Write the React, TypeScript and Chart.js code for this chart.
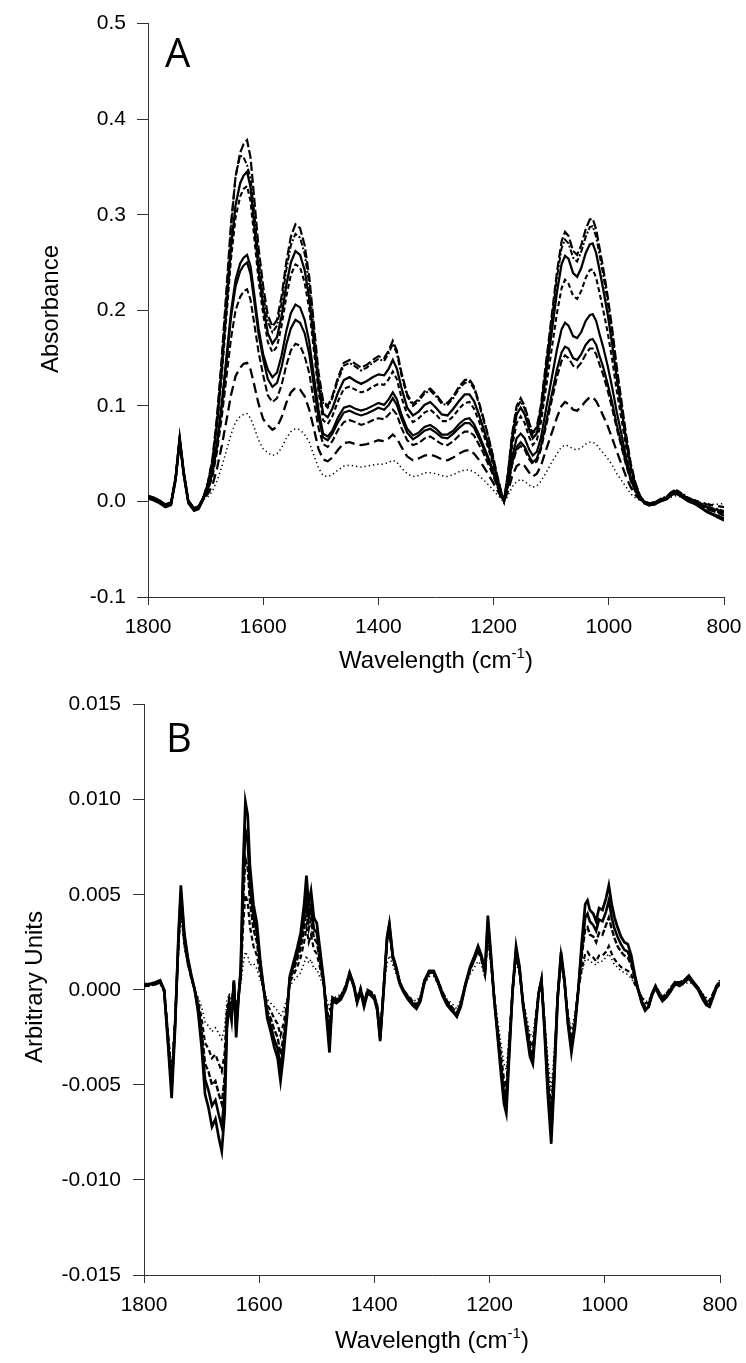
import React, { useEffect, useRef } from "react";
import { Chart, registerables } from "chart.js";

Chart.register(...registerables);

// ---------------- Panel A : absorbance spectra ----------------
const WAVENUMBERS_A = [
  1800, 1790, 1780, 1770, 1760, 1752, 1745, 1738, 1730, 1720, 1712, 1704,
  1696, 1688, 1680, 1672, 1664, 1656, 1648, 1640, 1634, 1628, 1622, 1616, 1608, 1600,
  1592, 1584, 1576, 1568, 1560, 1552, 1544, 1536, 1528, 1520, 1512, 1504,
  1496, 1488, 1480, 1470, 1460, 1450, 1440, 1430, 1420, 1410, 1400, 1390, 1382, 1375, 1368, 1360, 1350, 1340, 1330, 1320, 1310, 1300, 1290, 1280, 1270, 1260, 1250, 1242, 1234, 1226, 1218, 1210, 1202, 1194,
  1186, 1182,
  1175, 1168, 1160, 1153, 1146, 1138, 1132, 1125, 1118, 1110, 1100, 1090, 1082, 1076, 1070, 1062, 1055, 1048, 1040, 1033, 1028, 1022, 1016, 1010, 1002, 994, 986, 978, 970, 962, 954, 946,
  938, 930, 920, 910, 900, 890, 882, 872, 862, 850, 840, 830, 820, 810, 800,
];

const ABS_1 = [
  0.005, 0.003, 0.0, -0.004, -0.002, 0.025, 0.066, 0.03, 0.0, -0.008, -0.006, 0.004,
  0.02, 0.045, 0.09, 0.15, 0.22, 0.29, 0.34, 0.365, 0.374, 0.378, 0.36, 0.32, 0.265, 0.225,
  0.195, 0.183, 0.19, 0.215, 0.25, 0.277, 0.29, 0.286, 0.268, 0.235, 0.185, 0.135,
  0.105, 0.1, 0.11, 0.13, 0.145, 0.148, 0.144, 0.14, 0.143, 0.148, 0.152, 0.15, 0.158, 0.168, 0.158, 0.135, 0.112, 0.102, 0.107, 0.115, 0.118, 0.112, 0.104, 0.103, 0.11, 0.12, 0.127, 0.128, 0.12, 0.105, 0.088, 0.07, 0.05, 0.028,
  0.008, 0.001,
  0.03, 0.07, 0.1, 0.108, 0.1, 0.082, 0.072, 0.078, 0.1, 0.14, 0.19, 0.24, 0.272, 0.282, 0.278, 0.262, 0.258, 0.268, 0.285, 0.295, 0.296, 0.285, 0.265, 0.245, 0.215, 0.18, 0.14, 0.105, 0.07, 0.04, 0.02, 0.006,
  -0.001, -0.003, -0.002, 0.002, 0.004, 0.01, 0.011, 0.006, 0.002, -0.001, -0.004, -0.008, -0.01, -0.012, -0.015,
];
const ABS_2 = [
  0.006, 0.004, 0.001, -0.003, -0.001, 0.026, 0.067, 0.031, 0.001, -0.007, -0.005, 0.004,
  0.019, 0.043, 0.088, 0.148, 0.215, 0.285, 0.34, 0.362, 0.36, 0.352, 0.338, 0.305, 0.254, 0.216,
  0.188, 0.177, 0.184, 0.208, 0.242, 0.268, 0.28, 0.276, 0.259, 0.227, 0.179, 0.13,
  0.103, 0.098, 0.108, 0.127, 0.142, 0.145, 0.141, 0.137, 0.14, 0.145, 0.149, 0.147, 0.155, 0.165, 0.155, 0.132, 0.11, 0.1, 0.105, 0.113, 0.116, 0.11, 0.102, 0.101, 0.108, 0.118, 0.124, 0.125, 0.118, 0.103, 0.086, 0.069, 0.049, 0.027,
  0.008, 0.001,
  0.029, 0.068, 0.097, 0.105, 0.097, 0.08, 0.07, 0.076, 0.097, 0.136, 0.185, 0.234, 0.265, 0.274, 0.27, 0.255, 0.251, 0.261, 0.277, 0.287, 0.288, 0.277, 0.258, 0.238, 0.209, 0.175, 0.136, 0.102, 0.068, 0.039, 0.019, 0.006,
  0.0, -0.002, -0.001, 0.003, 0.005, 0.011, 0.012, 0.008, 0.004, 0.001, -0.002, -0.005, -0.007, -0.008, -0.01,
];
const ABS_3 = [
  0.004, 0.002, -0.001, -0.005, -0.003, 0.024, 0.065, 0.029, -0.001, -0.009, -0.007, 0.003,
  0.018, 0.041, 0.082, 0.137, 0.201, 0.265, 0.31, 0.333, 0.341, 0.345, 0.329, 0.292, 0.242, 0.205,
  0.176, 0.165, 0.172, 0.194, 0.226, 0.25, 0.262, 0.258, 0.242, 0.212, 0.167, 0.122,
  0.092, 0.088, 0.097, 0.114, 0.127, 0.13, 0.126, 0.123, 0.126, 0.13, 0.133, 0.132, 0.139, 0.148, 0.139, 0.119, 0.098, 0.09, 0.094, 0.101, 0.104, 0.098, 0.091, 0.09, 0.097, 0.105, 0.112, 0.112, 0.105, 0.092, 0.077, 0.061, 0.044, 0.025,
  0.007, 0.0,
  0.027, 0.064, 0.091, 0.098, 0.091, 0.075, 0.066, 0.071, 0.091, 0.128, 0.173, 0.219, 0.248, 0.257, 0.254, 0.239, 0.235, 0.244, 0.26, 0.269, 0.27, 0.26, 0.242, 0.223, 0.196, 0.164, 0.128, 0.096, 0.064, 0.036, 0.018, 0.005,
  -0.002, -0.004, -0.003, 0.001, 0.003, 0.008, 0.009, 0.005, 0.001, -0.002, -0.006, -0.01, -0.013, -0.015, -0.018,
];
const ABS_4 = [
  0.005, 0.003, 0.0, -0.004, -0.002, 0.025, 0.064, 0.029, 0.0, -0.008, -0.006, 0.003,
  0.017, 0.039, 0.079, 0.131, 0.192, 0.253, 0.297, 0.319, 0.327, 0.33, 0.314, 0.279, 0.231, 0.196,
  0.167, 0.156, 0.162, 0.184, 0.214, 0.237, 0.248, 0.245, 0.229, 0.201, 0.158, 0.115,
  0.085, 0.081, 0.089, 0.105, 0.118, 0.12, 0.117, 0.114, 0.116, 0.12, 0.123, 0.122, 0.128, 0.136, 0.128, 0.109, 0.091, 0.083, 0.087, 0.093, 0.096, 0.091, 0.084, 0.084, 0.089, 0.097, 0.103, 0.104, 0.097, 0.085, 0.071, 0.057, 0.041, 0.023,
  0.007, 0.001,
  0.025, 0.057, 0.082, 0.089, 0.082, 0.067, 0.059, 0.064, 0.082, 0.115, 0.156, 0.197, 0.223, 0.232, 0.228, 0.215, 0.212, 0.22, 0.234, 0.242, 0.243, 0.234, 0.218, 0.201, 0.177, 0.148, 0.115, 0.086, 0.057, 0.033, 0.016, 0.005,
  -0.001, -0.003, -0.002, 0.002, 0.004, 0.009, 0.01, 0.006, 0.003, 0.0, -0.003, -0.006, -0.008, -0.01, -0.012,
];
const ABS_5 = [
  0.003, 0.001, -0.002, -0.006, -0.004, 0.022, 0.062, 0.027, -0.002, -0.01, -0.008, 0.002,
  0.014, 0.031, 0.061, 0.102, 0.15, 0.198, 0.232, 0.249, 0.255, 0.258, 0.246, 0.219, 0.181, 0.154,
  0.138, 0.13, 0.135, 0.153, 0.178, 0.197, 0.206, 0.203, 0.19, 0.167, 0.131, 0.096,
  0.071, 0.068, 0.074, 0.088, 0.098, 0.1, 0.097, 0.095, 0.097, 0.1, 0.103, 0.101, 0.107, 0.114, 0.107, 0.091, 0.076, 0.069, 0.072, 0.078, 0.08, 0.076, 0.07, 0.07, 0.074, 0.081, 0.086, 0.087, 0.081, 0.071, 0.059, 0.047, 0.034, 0.019,
  0.006, 0.0,
  0.02, 0.046, 0.066, 0.071, 0.066, 0.054, 0.048, 0.052, 0.066, 0.093, 0.126, 0.159, 0.18, 0.187, 0.184, 0.173, 0.171, 0.177, 0.189, 0.195, 0.196, 0.189, 0.175, 0.162, 0.142, 0.119, 0.093, 0.07, 0.046, 0.026, 0.013, 0.004,
  -0.002, -0.004, -0.003, 0.0, 0.002, 0.007, 0.008, 0.004, 0.0, -0.003, -0.007, -0.011, -0.014, -0.017, -0.02,
];
const ABS_6 = [
  0.006, 0.004, 0.001, -0.003, -0.001, 0.026, 0.068, 0.032, 0.001, -0.007, -0.005, 0.004,
  0.013, 0.03, 0.059, 0.099, 0.145, 0.192, 0.225, 0.241, 0.247, 0.25, 0.238, 0.212, 0.175, 0.149,
  0.128, 0.12, 0.124, 0.141, 0.164, 0.181, 0.19, 0.187, 0.176, 0.154, 0.121, 0.088,
  0.067, 0.064, 0.071, 0.083, 0.093, 0.095, 0.092, 0.09, 0.092, 0.095, 0.098, 0.096, 0.101, 0.108, 0.101, 0.087, 0.072, 0.065, 0.069, 0.074, 0.076, 0.072, 0.067, 0.066, 0.071, 0.077, 0.082, 0.082, 0.077, 0.067, 0.056, 0.045, 0.032, 0.018,
  0.006, 0.001,
  0.017, 0.04, 0.057, 0.062, 0.057, 0.047, 0.041, 0.045, 0.057, 0.08, 0.109, 0.138, 0.156, 0.162, 0.16, 0.15, 0.148, 0.154, 0.164, 0.169, 0.17, 0.164, 0.152, 0.141, 0.123, 0.103, 0.08, 0.06, 0.04, 0.023, 0.011, 0.003,
  0.0, -0.002, -0.001, 0.002, 0.004, 0.01, 0.011, 0.007, 0.003, 0.0, -0.003, -0.006, -0.008, -0.009, -0.011,
];
const ABS_7 = [
  0.004, 0.002, -0.001, -0.005, -0.003, 0.023, 0.063, 0.028, -0.001, -0.009, -0.007, 0.002,
  0.012, 0.026, 0.053, 0.088, 0.129, 0.17, 0.2, 0.214, 0.22, 0.222, 0.211, 0.188, 0.156, 0.132,
  0.111, 0.104, 0.108, 0.122, 0.142, 0.158, 0.165, 0.163, 0.152, 0.134, 0.105, 0.077,
  0.06, 0.057, 0.063, 0.075, 0.083, 0.085, 0.083, 0.08, 0.082, 0.085, 0.087, 0.086, 0.091, 0.096, 0.091, 0.077, 0.064, 0.059, 0.061, 0.066, 0.068, 0.064, 0.06, 0.059, 0.063, 0.069, 0.073, 0.073, 0.069, 0.06, 0.051, 0.04, 0.029, 0.016,
  0.005, 0.0,
  0.016, 0.038, 0.054, 0.058, 0.054, 0.044, 0.039, 0.042, 0.054, 0.076, 0.103, 0.13, 0.147, 0.153, 0.15, 0.142, 0.14, 0.145, 0.154, 0.16, 0.16, 0.154, 0.143, 0.133, 0.116, 0.097, 0.076, 0.057, 0.038, 0.022, 0.011, 0.003,
  -0.001, -0.003, -0.002, 0.001, 0.003, 0.008, 0.009, 0.005, 0.002, -0.001, -0.004, -0.007, -0.009, -0.011, -0.013,
];
const ABS_8 = [
  0.005, 0.003, 0.0, -0.004, -0.002, 0.024, 0.065, 0.03, 0.0, -0.008, -0.006, 0.003,
  0.008, 0.017, 0.035, 0.058, 0.084, 0.111, 0.131, 0.14, 0.144, 0.145, 0.138, 0.123, 0.102, 0.086,
  0.08, 0.075, 0.078, 0.088, 0.103, 0.114, 0.119, 0.117, 0.11, 0.096, 0.076, 0.055,
  0.044, 0.042, 0.046, 0.054, 0.061, 0.062, 0.06, 0.059, 0.06, 0.062, 0.064, 0.063, 0.066, 0.07, 0.066, 0.057, 0.047, 0.043, 0.045, 0.048, 0.049, 0.047, 0.044, 0.043, 0.046, 0.05, 0.053, 0.054, 0.05, 0.044, 0.037, 0.029, 0.021, 0.012,
  0.004, 0.0,
  0.011, 0.026, 0.037, 0.04, 0.037, 0.03, 0.026, 0.029, 0.037, 0.052, 0.07, 0.088, 0.1, 0.104, 0.102, 0.096, 0.095, 0.099, 0.105, 0.109, 0.109, 0.105, 0.098, 0.09, 0.079, 0.066, 0.052, 0.039, 0.026, 0.015, 0.007, 0.002,
  0.0, -0.002, -0.001, 0.002, 0.003, 0.007, 0.008, 0.005, 0.003, 0.001, -0.001, -0.003, -0.004, -0.005, -0.006,
];
const ABS_9 = [
  0.004, 0.002, -0.001, -0.004, -0.003, 0.023, 0.064, 0.029, -0.001, -0.008, -0.007, 0.002,
  0.005, 0.011, 0.022, 0.036, 0.053, 0.07, 0.083, 0.089, 0.091, 0.092, 0.087, 0.078, 0.064, 0.055,
  0.051, 0.048, 0.05, 0.056, 0.066, 0.073, 0.076, 0.075, 0.07, 0.062, 0.048, 0.035,
  0.027, 0.026, 0.028, 0.033, 0.037, 0.038, 0.037, 0.036, 0.037, 0.038, 0.039, 0.039, 0.041, 0.043, 0.041, 0.035, 0.029, 0.026, 0.027, 0.03, 0.03, 0.029, 0.027, 0.026, 0.028, 0.031, 0.033, 0.033, 0.031, 0.027, 0.023, 0.018, 0.013, 0.007,
  0.002, -0.001,
  0.006, 0.015, 0.021, 0.023, 0.021, 0.017, 0.015, 0.016, 0.021, 0.029, 0.04, 0.05, 0.057, 0.059, 0.058, 0.055, 0.054, 0.056, 0.06, 0.062, 0.062, 0.06, 0.055, 0.051, 0.045, 0.038, 0.029, 0.022, 0.015, 0.008, 0.004, 0.001,
  -0.001, -0.002, -0.001, 0.001, 0.002, 0.005, 0.006, 0.004, 0.002, 0.0, -0.001, -0.002, -0.003, -0.003, -0.002,
];

// ---------------- Panel B : derivative spectra ----------------
const WAVENUMBERS_B = [
  1800, 1790, 1780, 1772, 1765, 1758, 1752, 1746, 1740, 1736, 1730, 1724, 1718,
  1712, 1706, 1700, 1694, 1688, 1682, 1676, 1670, 1665, 1660, 1656, 1652, 1648, 1644, 1640, 1636, 1632, 1628, 1624, 1620, 1616, 1610, 1604, 1598, 1592, 1586, 1580, 1574, 1568, 1563, 1558, 1552, 1547,
  1540, 1534, 1528, 1522, 1518, 1514, 1510, 1505, 1500, 1494, 1488, 1483, 1478,
  1473, 1466, 1458, 1450, 1443, 1436, 1430, 1424, 1418, 1412, 1406, 1400, 1395, 1390, 1384, 1378, 1374, 1368, 1362, 1356, 1350, 1342, 1334, 1327, 1320, 1313, 1305, 1297, 1290, 1282, 1274, 1266, 1257, 1250, 1242, 1234, 1226, 1220, 1214,
  1208, 1203, 1198, 1192, 1186, 1180, 1175, 1171, 1166, 1160, 1154, 1148, 1142, 1136, 1130, 1125, 1120, 1115, 1110, 1105, 1099, 1093, 1088, 1082, 1076, 1070, 1064, 1058, 1052, 1046,
  1040, 1034, 1030, 1026, 1020, 1015, 1010, 1004, 998, 993, 988, 983, 978, 972, 966, 960, 954, 948, 942,
  936, 930, 924, 918, 912, 906, 900, 893, 886, 878, 870, 862, 854, 846, 838, 830, 824, 818, 812, 806, 800,
];

const DER_1 = [
  3e-4, 3e-4, 4e-4, 5e-4, 0, -30e-4, -57e-4, -20e-4, 30e-4, 55e-4, 30e-4, 17e-4, 8e-4,
  0, -12e-4, -30e-4, -55e-4, -62e-4, -72e-4, -68e-4, -78e-4, -85e-4, -65e-4, -20e-4, -8e-4, -16e-4, 5e-4, -25e-4, -5e-4, 12e-4, 65e-4, 99e-4, 92e-4, 65e-4, 45e-4, 35e-4, 15e-4, 0, -15e-4, -22e-4, -30e-4, -36e-4, -48e-4, -35e-4, -15e-4, 7e-4,
  15e-4, 22e-4, 30e-4, 45e-4, 60e-4, 45e-4, 52e-4, 38e-4, 35e-4, 20e-4, 5e-4, -15e-4, -33e-4,
  -5e-4, -6e-4, -4e-4, 1e-4, 9e-4, 3e-4, -6e-4, 0, -8e-4, -1e-4, -2e-4, -4e-4, -10e-4, -27e-4, 0, 28e-4, 35e-4, 18e-4, 12e-4, 4e-4, 0, -4e-4, -7e-4, -9e-4, -5e-4, 5e-4, 10e-4, 10e-4, 5e-4, -2e-4, -7e-4, -10e-4, -14e-4, -8e-4, 3e-4, 12e-4, 18e-4, 23e-4, 18e-4,
  10e-4, 39e-4, 20e-4, -5e-4, -25e-4, -45e-4, -60e-4, -65e-4, -35e-4, 0, 23e-4, 12e-4, -8e-4, -22e-4, -35e-4, -39e-4, -20e-4, -2e-4, 5.5e-4, -20e-4, -55e-4, -81e-4, -50e-4, -5e-4, 20e-4, 5e-4, -18e-4, -33e-4, -20e-4, 0,
  25e-4, 45e-4, 47e-4, 42e-4, 40e-4, 36e-4, 43e-4, 42e-4, 48e-4, 55e-4, 45e-4, 38e-4, 33e-4, 28e-4, 25e-4, 24e-4, 18e-4, 8e-4, 0,
  -6e-4, -10e-4, -9e-4, -2e-4, 2e-4, -2e-4, -5e-4, -3e-4, 0, 4e-4, 3e-4, 5e-4, 7.5e-4, 4e-4, 1e-4, -4e-4, -7e-4, -8e-4, -3e-4, 2e-4, 4e-4,
];
const DER_2 = [
  2e-4, 3e-4, 3e-4, 4e-4, 0, -28e-4, -52e-4, -18e-4, 28e-4, 51e-4, 28e-4, 16e-4, 7e-4,
  0, -10e-4, -26e-4, -47e-4, -53e-4, -61e-4, -58e-4, -66e-4, -72e-4, -55e-4, -17e-4, -7e-4, -14e-4, 4e-4, -21e-4, -4e-4, 10e-4, 55e-4, 84e-4, 78e-4, 55e-4, 38e-4, 30e-4, 13e-4, 0, -13e-4, -19e-4, -26e-4, -31e-4, -41e-4, -30e-4, -13e-4, 6e-4,
  13e-4, 19e-4, 26e-4, 38e-4, 51e-4, 38e-4, 44e-4, 32e-4, 30e-4, 17e-4, 4e-4, -13e-4, -28e-4,
  -6e-4, -7e-4, -5e-4, 0, 8e-4, 2e-4, -7e-4, -1e-4, -9e-4, -2e-4, -3e-4, -5e-4, -11e-4, -26e-4, -1e-4, 27e-4, 34e-4, 17e-4, 11e-4, 3e-4, -1e-4, -5e-4, -8e-4, -10e-4, -6e-4, 4e-4, 9e-4, 9e-4, 4e-4, -3e-4, -8e-4, -11e-4, -14e-4, -9e-4, 2e-4, 11e-4, 17e-4, 22e-4, 17e-4,
  9e-4, 36e-4, 18e-4, -5e-4, -23e-4, -41e-4, -55e-4, -60e-4, -32e-4, 0, 21e-4, 11e-4, -7e-4, -20e-4, -32e-4, -36e-4, -18e-4, -2e-4, 5e-4, -18e-4, -51e-4, -75e-4, -46e-4, -5e-4, 18e-4, 5e-4, -17e-4, -30e-4, -18e-4, 0,
  21e-4, 38e-4, 40e-4, 36e-4, 34e-4, 31e-4, 37e-4, 36e-4, 41e-4, 47e-4, 38e-4, 32e-4, 28e-4, 24e-4, 21e-4, 20e-4, 15e-4, 7e-4, 0,
  -7e-4, -11e-4, -9e-4, -3e-4, 1e-4, -3e-4, -6e-4, -4e-4, -1e-4, 3e-4, 2e-4, 4e-4, 6e-4, 3e-4, 0, -5e-4, -8e-4, -9e-4, -4e-4, 1e-4, 3e-4,
];
const DER_3 = [
  3e-4, 2e-4, 4e-4, 4e-4, -1e-4, -26e-4, -48e-4, -17e-4, 26e-4, 47e-4, 26e-4, 14e-4, 7e-4,
  0, -8e-4, -21e-4, -39e-4, -43e-4, -50e-4, -48e-4, -55e-4, -60e-4, -46e-4, -14e-4, -6e-4, -11e-4, 4e-4, -18e-4, -4e-4, 8e-4, 46e-4, 69e-4, 64e-4, 46e-4, 32e-4, 25e-4, 11e-4, 0, -11e-4, -15e-4, -21e-4, -25e-4, -34e-4, -25e-4, -11e-4, 5e-4,
  11e-4, 16e-4, 22e-4, 32e-4, 43e-4, 32e-4, 37e-4, 27e-4, 25e-4, 14e-4, 4e-4, -11e-4, -24e-4,
  -4e-4, -5e-4, -3e-4, 2e-4, 9e-4, 3e-4, -5e-4, 1e-4, -7e-4, 0, -1e-4, -3e-4, -9e-4, -25e-4, 1e-4, 26e-4, 32e-4, 17e-4, 11e-4, 4e-4, 0, -3e-4, -6e-4, -8e-4, -4e-4, 5e-4, 9e-4, 9e-4, 5e-4, -1e-4, -6e-4, -9e-4, -13e-4, -7e-4, 3e-4, 11e-4, 16e-4, 21e-4, 16e-4,
  9e-4, 33e-4, 17e-4, -4e-4, -21e-4, -38e-4, -51e-4, -55e-4, -30e-4, 0, 20e-4, 10e-4, -7e-4, -19e-4, -30e-4, -33e-4, -17e-4, -2e-4, 5e-4, -17e-4, -47e-4, -69e-4, -43e-4, -4e-4, 17e-4, 4e-4, -15e-4, -28e-4, -17e-4, 0,
  18e-4, 32e-4, 33e-4, 29e-4, 28e-4, 25e-4, 30e-4, 29e-4, 34e-4, 38e-4, 32e-4, 27e-4, 23e-4, 20e-4, 18e-4, 17e-4, 13e-4, 6e-4, 0,
  -5e-4, -9e-4, -8e-4, -2e-4, 2e-4, -1e-4, -4e-4, -2e-4, 1e-4, 4e-4, 4e-4, 5e-4, 7e-4, 4e-4, 1e-4, -3e-4, -6e-4, -7e-4, -2e-4, 2e-4, 5e-4,
];
const DER_4 = [
  2e-4, 2e-4, 3e-4, 4e-4, 0, -24e-4, -46e-4, -16e-4, 24e-4, 44e-4, 24e-4, 14e-4, 6e-4,
  0, -6e-4, -15e-4, -28e-4, -31e-4, -36e-4, -34e-4, -39e-4, -43e-4, -33e-4, -10e-4, -4e-4, -8e-4, 3e-4, -13e-4, -3e-4, 6e-4, 33e-4, 50e-4, 46e-4, 33e-4, 23e-4, 18e-4, 8e-4, 0, -8e-4, -11e-4, -15e-4, -18e-4, -24e-4, -18e-4, -8e-4, 4e-4,
  8e-4, 12e-4, 17e-4, 25e-4, 33e-4, 25e-4, 29e-4, 21e-4, 19e-4, 11e-4, 3e-4, -8e-4, -18e-4,
  -5e-4, -5e-4, -4e-4, 1e-4, 8e-4, 2e-4, -6e-4, 0, -7e-4, -1e-4, -2e-4, -4e-4, -9e-4, -24e-4, 0, 25e-4, 31e-4, 16e-4, 10e-4, 3e-4, 0, -4e-4, -6e-4, -8e-4, -5e-4, 4e-4, 9e-4, 9e-4, 4e-4, -2e-4, -6e-4, -9e-4, -12e-4, -7e-4, 3e-4, 10e-4, 16e-4, 20e-4, 16e-4,
  8e-4, 30e-4, 16e-4, -4e-4, -20e-4, -35e-4, -47e-4, -51e-4, -27e-4, 0, 18e-4, 9e-4, -6e-4, -17e-4, -27e-4, -30e-4, -16e-4, -2e-4, 4e-4, -16e-4, -43e-4, -63e-4, -39e-4, -4e-4, 16e-4, 4e-4, -14e-4, -26e-4, -16e-4, 0,
  11e-4, 19e-4, 20e-4, 18e-4, 17e-4, 15e-4, 18e-4, 18e-4, 20e-4, 23e-4, 19e-4, 16e-4, 14e-4, 12e-4, 11e-4, 10e-4, 8e-4, 3e-4, 0,
  -4e-4, -7e-4, -7e-4, -2e-4, 1e-4, -2e-4, -4e-4, -3e-4, 0, 3e-4, 3e-4, 4e-4, 6e-4, 4e-4, 1e-4, -3e-4, -5e-4, -6e-4, -2e-4, 2e-4, 4e-4,
];
const DER_5 = [
  1e-4, 2e-4, 3e-4, 3e-4, 0, -22e-4, -43e-4, -15e-4, 22e-4, 41e-4, 22e-4, 13e-4, 6e-4,
  0, -4e-4, -9e-4, -17e-4, -19e-4, -22e-4, -20e-4, -23e-4, -26e-4, -20e-4, -6e-4, -2e-4, -5e-4, 2e-4, -8e-4, -2e-4, 3e-4, 13e-4, 20e-4, 18e-4, 13e-4, 14e-4, 11e-4, 5e-4, 0, -5e-4, -7e-4, -9e-4, -11e-4, -14e-4, -11e-4, -5e-4, 2e-4,
  5e-4, 7e-4, 9e-4, 14e-4, 18e-4, 14e-4, 16e-4, 11e-4, 11e-4, 6e-4, 2e-4, -5e-4, -10e-4,
  -3e-4, -4e-4, -2e-4, 1e-4, 6e-4, 2e-4, -4e-4, 0, -5e-4, -1e-4, -1e-4, -3e-4, -7e-4, -18e-4, 0, 14e-4, 18e-4, 13e-4, 8e-4, 3e-4, 0, -3e-4, -5e-4, -6e-4, -3e-4, 3e-4, 7e-4, 7e-4, 3e-4, -1e-4, -5e-4, -7e-4, -10e-4, -5e-4, 2e-4, 8e-4, 12e-4, 15e-4, 13e-4,
  6e-4, 25e-4, 13e-4, -3e-4, -16e-4, -29e-4, -39e-4, -42e-4, -23e-4, 0, 15e-4, 8e-4, -5e-4, -14e-4, -23e-4, -25e-4, -13e-4, -1e-4, 4e-4, -13e-4, -36e-4, -53e-4, -33e-4, -3e-4, 13e-4, 3e-4, -12e-4, -21e-4, -13e-4, 0,
  9e-4, 16e-4, 16e-4, 15e-4, 14e-4, 13e-4, 15e-4, 15e-4, 17e-4, 19e-4, 16e-4, 13e-4, 12e-4, 10e-4, 9e-4, 8e-4, 6e-4, 3e-4, 0,
  -3e-4, -6e-4, -6e-4, -1e-4, 1e-4, -1e-4, -3e-4, -2e-4, 0, 2e-4, 2e-4, 3e-4, 4e-4, 3e-4, 1e-4, -2e-4, -4e-4, -5e-4, -2e-4, 1e-4, 3e-4,
];

// ---------------- Axes ----------------
const X_TICKS = [800, 1000, 1200, 1400, 1600, 1800];
const X_TICK_LABELS = ["800", "1000", "1200", "1400", "1600", "1800"];
const Y_TICKS_A = [-0.1, 0, 0.1, 0.2, 0.3, 0.4, 0.5];
const Y_TICK_LABELS_A = ["-0.1", "0.0", "0.1", "0.2", "0.3", "0.4", "0.5"];
const Y_TICKS_B = [-0.015, -0.01, -0.005, 0, 0.005, 0.01, 0.015];
const Y_TICK_LABELS_B = ["-0.015", "-0.010", "-0.005", "0.000", "0.005", "0.010", "0.015"];

type LineStyle = { dash: number[]; width: number };

const STYLES_A: LineStyle[] = [
  { dash: [9, 3], width: 2.2 },
  { dash: [6, 2, 2, 2], width: 2 },
  { dash: [], width: 2.3 },
  { dash: [5, 3], width: 2.1 },
  { dash: [], width: 2.2 },
  { dash: [], width: 2.2 },
  { dash: [7, 3], width: 2.1 },
  { dash: [10, 5], width: 2.3 },
  { dash: [1.3, 3], width: 1.5 },
];
const STYLES_B: LineStyle[] = [
  { dash: [], width: 2.7 },
  { dash: [], width: 2.6 },
  { dash: [6, 2], width: 2.4 },
  { dash: [5, 3], width: 2.2 },
  { dash: [1.3, 3], width: 1.6 },
];

const FONT_FAMILY = '"Liberation Sans", Arial, sans-serif';

interface PanelConfig {
  id: string;
  top: number;
  height: number;
  padTop: number;
  padRight: number;
  yWidth: number;
  xHeight: number;
  yMin: number;
  yMax: number;
  yTicks: number[];
  yLabels: string[];
  yTickPad: number;
  letter: string;
  letterX: number;
  letterY: number;
  yTitle: string;
  yTitleX: number;
  yTitleY: number;
  xTitleX: number;
  xTitleY: number;
  xs: number[];
  series: number[][];
  styles: LineStyle[];
}

const PANEL_A: PanelConfig = {
  id: "A",
  top: 0,
  height: 680,
  padTop: 21,
  padRight: 22,
  yWidth: 148,
  xHeight: 83,
  yMin: -0.1,
  yMax: 0.5,
  yTicks: Y_TICKS_A,
  yLabels: Y_TICK_LABELS_A,
  yTickPad: 11,
  letter: "A",
  letterX: 165,
  letterY: 67,
  yTitle: "Absorbance",
  yTitleX: 51,
  yTitleY: 309,
  xTitleX: 436,
  xTitleY: 668,
  xs: WAVENUMBERS_A,
  series: [ABS_1, ABS_2, ABS_3, ABS_4, ABS_5, ABS_6, ABS_7, ABS_8, ABS_9],
  styles: STYLES_A,
};

const PANEL_B: PanelConfig = {
  id: "B",
  top: 680,
  height: 683,
  padTop: 20,
  padRight: 26,
  yWidth: 144,
  xHeight: 88,
  yMin: -0.015,
  yMax: 0.015,
  yTicks: Y_TICKS_B,
  yLabels: Y_TICK_LABELS_B,
  yTickPad: 12,
  letter: "B",
  letterX: 166,
  letterY: 72,
  yTitle: "Arbitrary Units",
  yTitleX: 35,
  yTitleY: 307,
  xTitleX: 432,
  xTitleY: 668,
  xs: WAVENUMBERS_B,
  series: [DER_1, DER_2, DER_3, DER_4, DER_5],
  styles: STYLES_B,
};

function textPlugin(cfg: PanelConfig) {
  return {
    id: "panelText" + cfg.id,
    afterDraw(chart: any) {
      const ctx: CanvasRenderingContext2D = chart.ctx;
      ctx.save();
      ctx.fillStyle = "#000";
      ctx.font = '400 40px "Open Sans", sans-serif';
      ctx.textAlign = "left";
      ctx.textBaseline = "alphabetic";
      ctx.fillText(cfg.letter, cfg.letterX, cfg.letterY);

      ctx.save();
      ctx.translate(cfg.yTitleX, cfg.yTitleY);
      ctx.rotate(-Math.PI / 2);
      ctx.font = "24px " + FONT_FAMILY;
      ctx.textAlign = "center";
      ctx.textBaseline = "middle";
      ctx.fillText(cfg.yTitle, 0, 0);
      ctx.restore();

      const mainFont = "24px " + FONT_FAMILY;
      const supFont = "15px " + FONT_FAMILY;
      const p1 = "Wavelength (cm";
      const p2 = "-1";
      const p3 = ")";
      ctx.font = mainFont;
      const w1 = ctx.measureText(p1).width;
      const w3 = ctx.measureText(p3).width;
      ctx.font = supFont;
      const w2 = ctx.measureText(p2).width;
      let x = cfg.xTitleX - (w1 + w2 + w3) / 2;
      ctx.textAlign = "left";
      ctx.textBaseline = "alphabetic";
      ctx.font = mainFont;
      ctx.fillText(p1, x, cfg.xTitleY);
      x += w1;
      ctx.font = supFont;
      ctx.fillText(p2, x, cfg.xTitleY - 10);
      x += w2;
      ctx.font = mainFont;
      ctx.fillText(p3, x, cfg.xTitleY);
      ctx.restore();
    },
  };
}

function buildConfig(cfg: PanelConfig): any {
  const datasets = cfg.series.map((ys, k) => ({
    data: cfg.xs.map((x, i) => ({ x, y: ys[i] })),
    borderColor: "#000",
    backgroundColor: "#000",
    borderWidth: cfg.styles[k].width,
    borderDash: cfg.styles[k].dash,
    pointRadius: 0,
    fill: false,
    tension: 0,
  }));
  const tickFont = { family: FONT_FAMILY, size: 21 };
  return {
    type: "line",
    data: { datasets },
    plugins: [textPlugin(cfg)],
    options: {
      responsive: false,
      maintainAspectRatio: false,
      animation: false,
      events: [],
      layout: { padding: { left: 0, right: cfg.padRight, top: cfg.padTop, bottom: 0 } },
      plugins: { legend: { display: false }, tooltip: { enabled: false }, title: { display: false } },
      scales: {
        x: {
          type: "linear",
          reverse: true,
          min: 800,
          max: 1800,
          afterBuildTicks: (s: any) => {
            s.ticks = X_TICKS.map((v) => ({ value: v }));
          },
          afterFit: (s: any) => {
            s.height = cfg.xHeight;
          },
          ticks: {
            font: tickFont,
            color: "#000",
            padding: 10,
            maxRotation: 0,
            autoSkip: false,
            callback: (v: number) => X_TICK_LABELS[X_TICKS.indexOf(v)] ?? "",
          },
          grid: { drawOnChartArea: false, drawTicks: true, tickLength: 8, color: "#333", lineWidth: 1 },
          border: { display: true, color: "#333", width: 1 },
        },
        y: {
          type: "linear",
          min: cfg.yMin,
          max: cfg.yMax,
          afterBuildTicks: (s: any) => {
            s.ticks = cfg.yTicks.map((v) => ({ value: v }));
          },
          afterFit: (s: any) => {
            s.width = cfg.yWidth;
          },
          ticks: {
            font: tickFont,
            color: "#000",
            padding: cfg.yTickPad,
            autoSkip: false,
            callback: (v: number) => {
              const idx = cfg.yTicks.findIndex((t) => Math.abs(t - v) < 1e-9);
              return idx >= 0 ? cfg.yLabels[idx] : "";
            },
          },
          grid: { drawOnChartArea: false, drawTicks: true, tickLength: 11, color: "#333", lineWidth: 1 },
          border: { display: true, color: "#333", width: 1 },
        },
      },
    },
  };
}

function SpectrumPanel({ cfg }: { cfg: PanelConfig }) {
  const ref = useRef<HTMLCanvasElement | null>(null);
  useEffect(() => {
    if (!ref.current) return;
    const chart = new Chart(ref.current, buildConfig(cfg));
    return () => chart.destroy();
  }, [cfg]);
  return (
    <canvas
      ref={ref}
      width={746}
      height={cfg.height}
      style={{ position: "absolute", left: 0, top: cfg.top, width: 746, height: cfg.height, display: "block" }}
    />
  );
}

export default function App() {
  return (
    <div style={{ position: "absolute", left: 0, top: 0, width: 746, height: 1363, background: "#fff", overflow: "hidden" }}>
      <SpectrumPanel cfg={PANEL_A} />
      <SpectrumPanel cfg={PANEL_B} />
    </div>
  );
}
